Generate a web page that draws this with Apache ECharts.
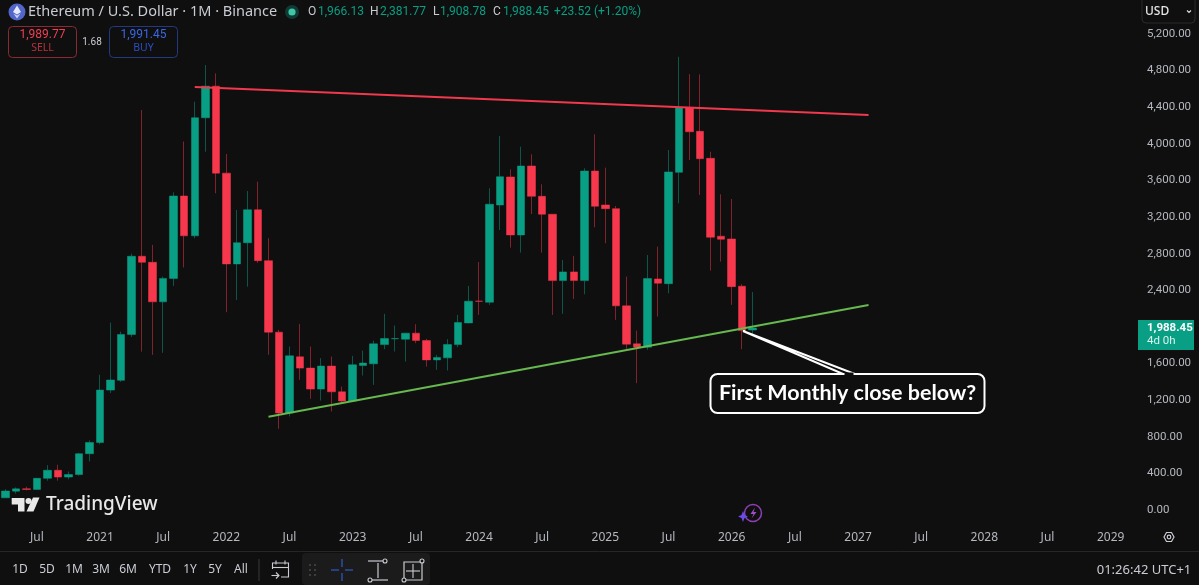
<!DOCTYPE html>
<html>
<head>
<meta charset="utf-8">
<title>ETHUSD 1M</title>
<style>
html, body { margin: 0; padding: 0; background: #0f0f0f; }
#chart { width: 1199px; height: 585px; }
</style>
<script src="https://cdn.jsdelivr.net/npm/echarts@6/dist/echarts.min.js"></script>
</head>
<body>
<div id="chart"></div>
<script>
// monthly candles, Apr 2020 .. Mar 2026
var opens = [133,206,231,225,346,434,360,387,615,738,1310,1417,1918,2772,2706,2274,2530,3430,2995,4285,4630,3680,2688,2920,3280,2724,1943,1059,1673,1550,1321,1572,1291,1190,1578,1597,1807,1870,1866,1932,1851,1640,1662,1807,2044,2282,2270,3332,3638,3005,3758,3427,3231,2506,2601,2506,3703,3332,3292,2230,1815,1779,2524,2473,3689,4391,4137,3842,2991,2961,2445,1966];
var highs = [227,247,255,350,490,494,420,625,760,1477,2047,1949,2800,4370,2896,2550,3470,4025,4460,4860,4770,3889,3278,3485,3586,2969,1968,1786,2033,1786,1659,1677,1349,1684,1742,1851,2143,2015,1935,2030,1870,1695,1866,2131,2448,2710,3514,4085,3722,3969,3886,3558,3231,2732,2776,3733,4104,3740,3321,2550,1960,2786,2877,3933,4951,4762,4759,3914,3449,3398,2467,2381];
var lows = [130,180,215,222,320,320,335,375,530,718,1277,1400,1891,1730,1695,1717,2448,2650,2969,3914,3460,2161,2295,2440,2700,1695,887,1022,1422,1215,1196,1076,1168,1190,1469,1367,1757,1731,1622,1823,1567,1531,1524,1779,2040,2131,2241,3059,2866,2812,3234,2812,2131,2143,2306,2357,3089,2914,2077,1757,1386,1750,2113,2368,3351,3823,3441,2615,2713,2241,1757,1908];
var closes = [207,231,225,346,434,360,387,615,738,1310,1420,1918,2772,2706,2274,2530,3430,2995,4285,4630,3680,2688,2920,3280,2724,1943,1059,1684,1550,1321,1572,1291,1190,1586,1605,1815,1873,1874,1932,1851,1640,1666,1807,2048,2281,2280,3340,3641,3005,3758,3427,3231,2506,2601,2506,3703,3318,3292,2230,1812,1779,2528,2478,3693,4394,4132,3838,2980,2958,2440,1960,1988];

// one category per month out to the right edge of the pane
var months = [];
for (var m = 0; m < 108; m++) {
    var total = 2020 * 12 + 3 + m;
    months.push(Math.floor(total / 12) + '-' + ('0' + (total % 12 + 1)).slice(-2));
}

var resistance = [[18, 4620], [82, 4315]];
var support = [[25, 1018], [82, 2240]];
var priceTicks = { min: 0, max: 5200, step: 400 };

var header = [
    ['O', 308, '1,966.13', 318],
    ['H', 370, '2,381.77', 380],
    ['L', 433, '1,908.78', 440],
    ['C', 493, '1,988.45', 503]
];
var ranges = [['1D', 20], ['5D', 47], ['1M', 74], ['3M', 101], ['6M', 128], ['YTD', 160], ['1Y', 190], ['5Y', 215], ['All', 241]];

var FONT = '"Noto Sans", sans-serif';
var NUM = 'Roboto, sans-serif';
var BG = '#0f0f0f';
var GREEN = '#089f84';
var RED = '#f7374c';
var TEXT = '#c9ccd3';

var candles = months.slice(0, opens.length).map(function (m, i) {
    return [opens[i], closes[i], lows[i], highs[i]];
});

function txt(x, y, s, size, color, extra) {
    var family = extra && extra.family || FONT;
    var style = { x: x, y: y, text: s, font: (extra && extra.weight || 'normal') + ' ' + size + 'px ' + family, fill: color, align: extra && extra.align || 'left', verticalAlign: 'middle' };
    return { type: 'text', silent: true, z: 20, style: style };
}
function rect(x, y, w, h, r, fill, stroke, lw) {
    return { type: 'rect', silent: true, z: 15, shape: { x: x, y: y, width: w, height: h, r: r }, style: { fill: fill || 'transparent', stroke: stroke || null, lineWidth: lw || 1 } };
}
function line(x1, y1, x2, y2, color, lw) {
    return { type: 'line', silent: true, z: 16, shape: { x1: x1, y1: y1, x2: x2, y2: y2 }, style: { stroke: color, lineWidth: lw || 1 } };
}
function poly(points, fill, stroke, lw) {
    return { type: 'polygon', silent: true, z: 16, shape: { points: points }, style: { fill: fill || 'transparent', stroke: stroke || null, lineWidth: lw || 1 } };
}
function circle(x, y, r, fill, stroke, lw) {
    return { type: 'circle', silent: true, z: 16, shape: { cx: x, cy: y, r: r }, style: { fill: fill || 'transparent', stroke: stroke || null, lineWidth: lw || 1 } };
}

var g = [];
// symbol header
g.push(circle(17, 12, 8.5, '#5266c9'));
g.push(poly([[17, 5.5], [21, 12], [17, 14.5], [13, 12]], '#e6e9fb'));
g.push(poly([[17, 15.6], [20.6, 13.4], [17, 18.5], [13.4, 13.4]], '#c9d0f4'));
g.push(txt(28, 11.5, 'Ethereum / U.S. Dollar · 1M · Binance', 14.5, '#c9ccd3'));
g.push(circle(292, 12, 7, '#0f3b33'));
g.push(circle(292, 12, 3.6, '#3fc7a9'));
header.forEach(function (h) {
    g.push(txt(h[1], 11.5, h[0], 12, TEXT, { family: NUM }));
    g.push(txt(h[3], 11.5, h[2], 12, GREEN, { family: NUM }));
});
g.push(txt(554, 11.5, '+23.52 (+1.20%)', 12, GREEN, { family: NUM }));

// sell / buy boxes
g.push(rect(8.5, 26.5, 68, 31, 4, null, '#8a2a35'));
g.push(txt(42.5, 35, '1,989.77', 12, '#f23f52', { align: 'center', family: NUM }));
g.push(txt(42.5, 48, 'SELL', 10.5, '#b8303f', { align: 'center' }));
g.push(txt(92, 42, '1.68', 10, TEXT, { align: 'center', family: NUM }));
g.push(rect(109.5, 26.5, 68, 31, 4, null, '#24397f'));
g.push(txt(143.5, 35, '1,991.45', 12, '#3b66e6', { align: 'center', family: NUM }));
g.push(txt(143.5, 48, 'BUY', 10.5, '#2c4fc0', { align: 'center' }));

// currency select
g.push(rect(1142, -4, 53, 27, 4, null, '#2b2b2b'));
g.push(txt(1145, 11.5, 'USD', 12, '#e6e6e6', { weight: 500 }));
g.push({ type: 'polyline', silent: true, z: 16, shape: { points: [[1187, 10.5], [1189, 12.5], [1191, 10.5]] }, style: { stroke: '#d8d8d8', lineWidth: 1.2, fill: null } });

// last price tag
g.push(rect(1138, 320, 56, 30, 0, '#089f84'));
g.push(txt(1147, 328.5, '1,988.45', 11.5, '#ffffff', { weight: 700, family: NUM }));
g.push(txt(1147, 341.5, '4d 0h', 11.5, '#d9f2ec', { family: NUM }));

// callout
g.push(poly([[743, 331], [843, 374], [855, 374]], BG, '#ffffff', 2));
g.push(rect(710.5, 374, 274, 39, 7, BG, '#ffffff', 2));
g.push(line(844.5, 374, 853.5, 374, BG, 3));
g.push(txt(847.5, 393.5, 'First Monthly close below?', 21.5, '#ffffff', { weight: 700, align: 'center', family: 'Lato, sans-serif' }));

// logo
g.push(poly([[11.7, 498], [24.5, 498], [24.5, 511.5], [18, 511.5], [18, 504.5], [11.7, 504.5]], '#e8e8e8'));
g.push(circle(28.5, 501, 3, '#e8e8e8'));
g.push(poly([[33, 497.5], [39.5, 497.5], [33.5, 511.5], [26.5, 511.5]], '#e8e8e8'));
g.push(txt(46, 505, 'TradingView', 19, '#e8e8e8', { weight: 500 }));

// purple assistant icon
g.push(circle(753, 513, 8.5, null, '#8f3fb5', 1.5));
g.push(poly([[755, 507.5], [750.5, 514], [753.5, 514], [751.5, 518.5], [756.5, 512], [753.5, 512]], '#a24cc9'));
g.push(poly([[743, 511], [744.5, 515], [748, 516.5], [744.5, 518], [743, 522], [741.5, 518], [738, 516.5], [741.5, 515]], '#6a4be8'));

// settings hexagon
g.push(poly([[1164, 537], [1166.5, 532.5], [1171.5, 532.5], [1174, 537], [1171.5, 541.5], [1166.5, 541.5]], null, '#c9ccd3', 1.2));
g.push(circle(1169, 537, 1.8, null, '#c9ccd3', 1.2));

// bottom toolbar
g.push(line(0, 551.5, 1199, 551.5, '#262626'));
ranges.forEach(function (r) {
    g.push(txt(r[1], 570, r[0], 12, TEXT, { align: 'center' }));
});
g.push(line(259, 559, 259, 581, '#3a3a3a'));
// calendar with arrow
g.push({ type: 'polyline', silent: true, z: 16, shape: { points: [[272.5, 569], [272.5, 563], [288.5, 563], [288.5, 577], [281, 577]] }, style: { stroke: TEXT, lineWidth: 1.1, fill: null } });
g.push(line(272.5, 567.5, 288.5, 567.5, TEXT, 1.1));
g.push(line(276, 560.5, 276, 564.5, TEXT, 1.1));
g.push(line(285, 560.5, 285, 564.5, TEXT, 1.1));
g.push({ type: 'polyline', silent: true, z: 16, shape: { points: [[271.5, 575.5], [279, 575.5]] }, style: { stroke: TEXT, lineWidth: 1.1, fill: null } });
g.push({ type: 'polyline', silent: true, z: 16, shape: { points: [[276, 572.5], [279, 575.5], [276, 578.5]] }, style: { stroke: TEXT, lineWidth: 1.1, fill: null } });
g.push(rect(302, 553, 128, 32, 4, '#1b1b1b'));
[[310, 565], [315, 565], [310, 570], [315, 570], [310, 575], [315, 575]].forEach(function (d) {
    g.push(circle(d[0], d[1], 1, '#4a4a4a'));
});
g.push(line(331, 570, 339, 570, '#2c56c4', 1.3));
g.push(line(345, 570, 353, 570, '#2c56c4', 1.3));
g.push(line(342, 559, 342, 567, '#2c56c4', 1.3));
g.push(line(342, 573, 342, 581, '#2c56c4', 1.3));
g.push(line(368, 561, 385, 561, TEXT, 1.2));
g.push(line(372, 580, 388, 580, TEXT, 1.2));
g.push(line(378, 563, 378, 578, TEXT, 1.2));
g.push(circle(385, 561, 2, BG, TEXT, 1.1));
g.push(circle(370, 580, 2, BG, TEXT, 1.1));
g.push(rect(404, 562, 18, 18, 0, null, TEXT, 1.2));
g.push(line(413, 564, 413, 578, TEXT, 1.1));
g.push(line(406, 571, 420, 571, TEXT, 1.1));
g.push(circle(422, 561, 2, BG, TEXT, 1.1));
g.push(circle(404, 580, 2, BG, TEXT, 1.1));
g.push(txt(1144, 570, '01:26:42 UTC+1', 13, TEXT, { align: 'center' }));

var chart = echarts.init(document.getElementById('chart'), null, { renderer: 'canvas' });
chart.setOption({
    animation: false,
    backgroundColor: BG,
    grid: { left: 0, right: 62, top: 34, bottom: 75, containLabel: false },
    xAxis: {
        type: 'category',
        data: months,
        boundaryGap: true,
        axisLine: { show: false },
        axisTick: { show: false },
        splitLine: { show: false },
        axisLabel: {
            color: '#b5b8bf',
            fontFamily: FONT,
            fontSize: 12,
            margin: 22,
            hideOverlap: false,
            interval: function (i, v) {
                return /-(01|07)$/.test(v);
            },
            formatter: function (v) {
                return /-01$/.test(v) ? v.slice(0, 4) : 'Jul';
            }
        }
    },
    yAxis: {
        type: 'value',
        position: 'right',
        min: priceTicks.min,
        max: priceTicks.max,
        interval: priceTicks.step,
        axisLine: { show: false },
        axisTick: { show: false },
        splitLine: { show: false },
        axisLabel: {
            color: '#b5b8bf',
            fontFamily: NUM,
            fontSize: 11.5,
            margin: 10,
            padding: [3, 0, 0, 0],
            formatter: function (v) {
                return v.toLocaleString('en-US', { minimumFractionDigits: 2, maximumFractionDigits: 2 });
            }
        }
    },
    series: [
        {
            type: 'candlestick',
            data: candles,
            barWidth: 8,
            itemStyle: {
                color: GREEN,
                color0: RED,
                borderColor: GREEN,
                borderColor0: RED,
                borderWidth: 0.5,
                opacity: 1
            }
        },
        {
            type: 'line',
            data: resistance,
            symbol: 'none',
            z: 5,
            lineStyle: { color: '#f0394d', width: 2 }
        },
        {
            type: 'line',
            data: support,
            symbol: 'none',
            z: 5,
            lineStyle: { color: '#66b84f', width: 2 }
        }
    ],
    graphic: g
});
</script>
</body>
</html>
